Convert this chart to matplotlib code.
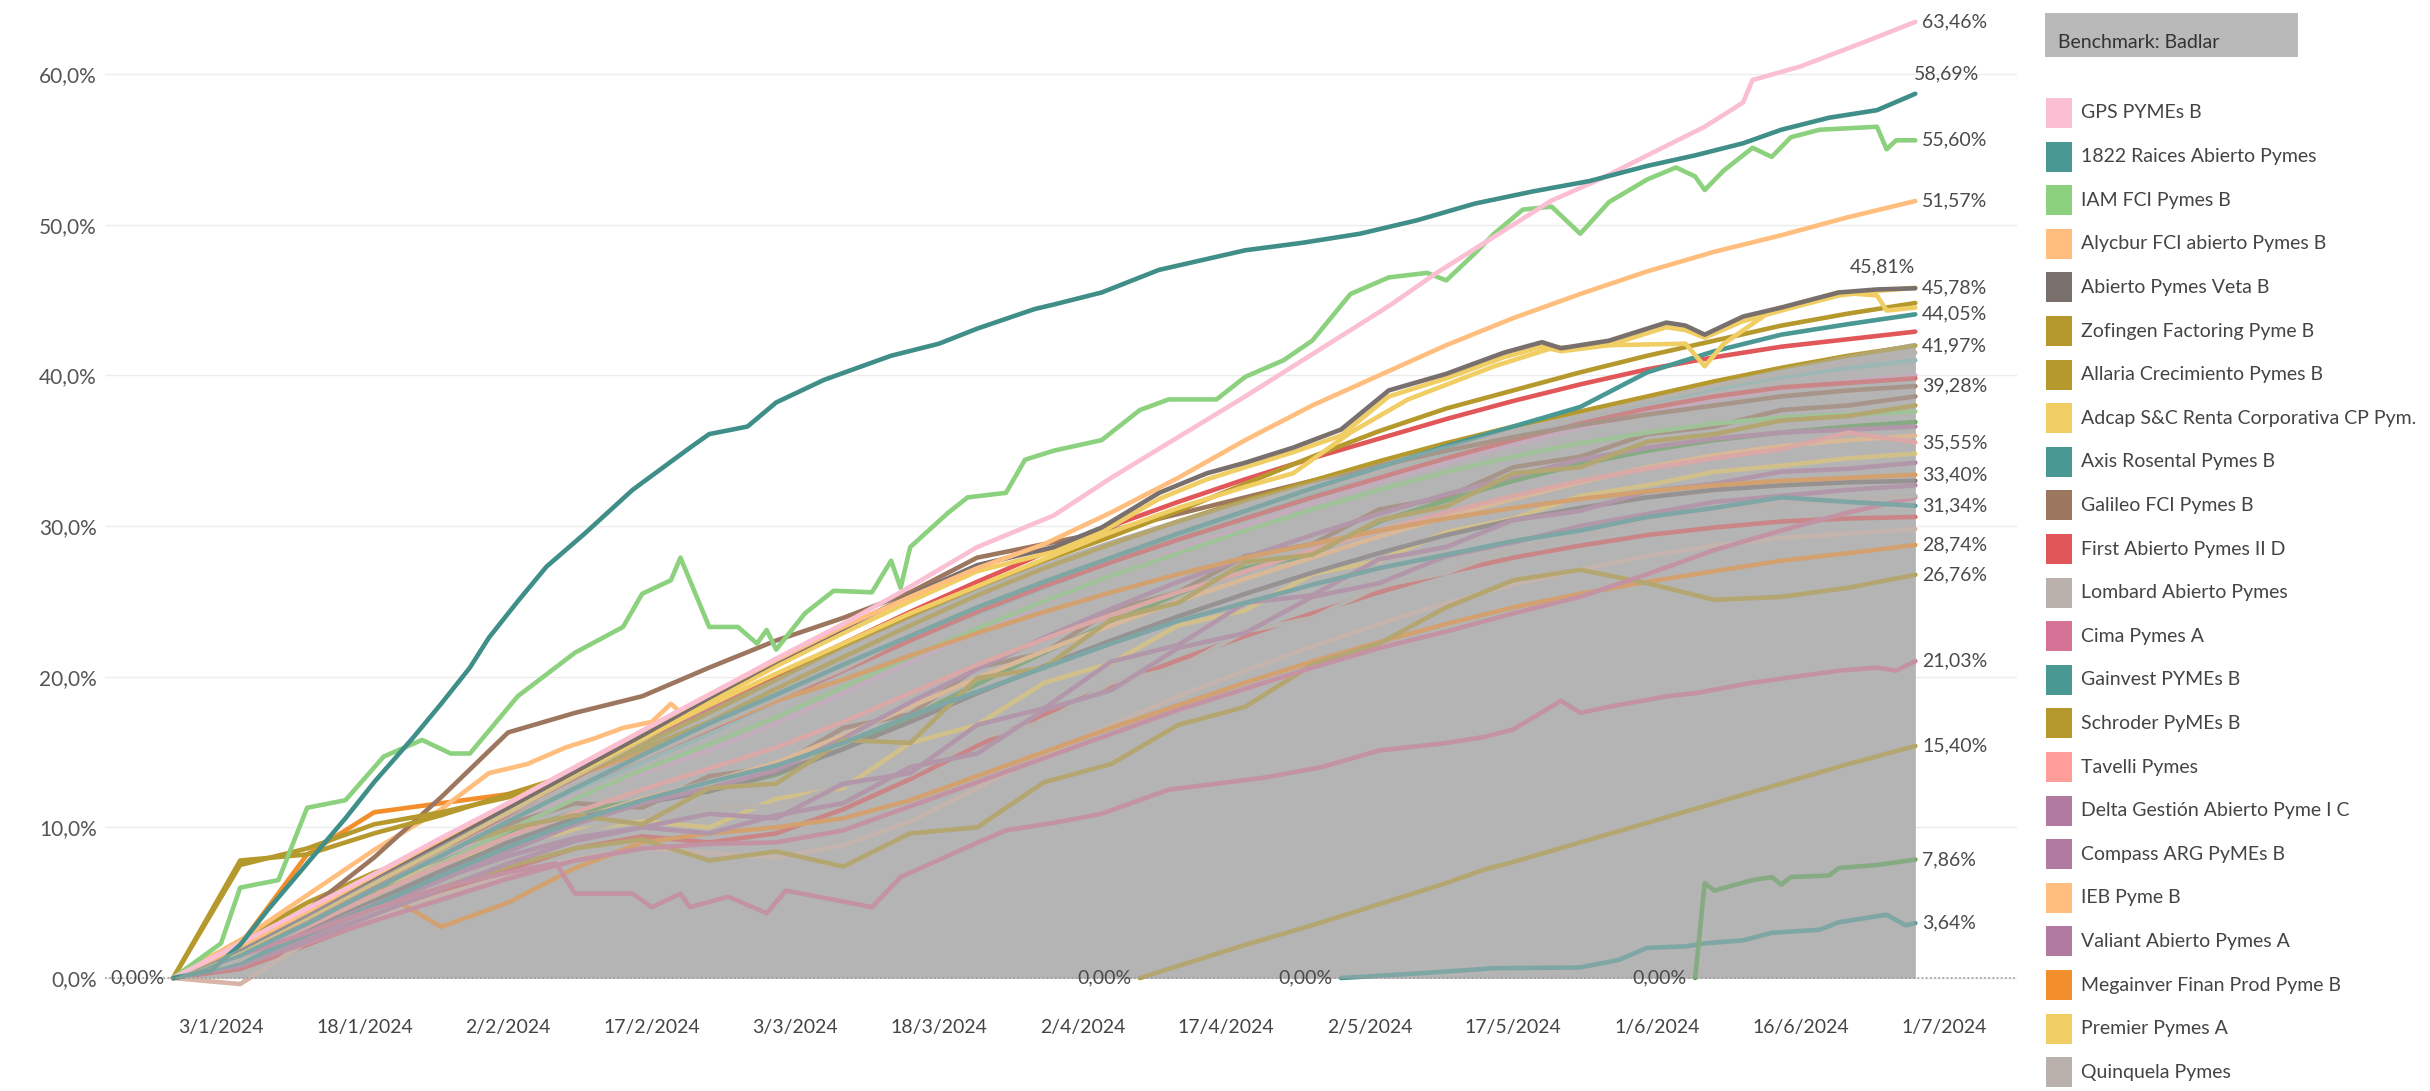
import matplotlib
matplotlib.use("Agg")
import matplotlib.pyplot as plt
import matplotlib.ticker as mticker
from matplotlib.patches import Rectangle
import pandas as pd

plt.rcParams["font.family"] = ["Lato", "DejaVu Sans"]

# day numbers are days of 2024 (1 = 1 Jan); -2 = 29/12/2023
BASE = pd.Timestamp("2023-12-31")
WEEK = list(range(-2, 181, 7))

tick_days = [3, 18, 33, 48, 63, 78, 93, 108, 123, 138, 153, 168, 183]

# ---- benchmark (gray area) ----
badlar = [0, 2.0, 4.3, 6.6, 8.9, 11.2, 13.5, 15.8, 18.0, 20.0, 22.0, 24.0, 25.9, 27.6,
          29.1, 30.5, 31.8, 33.0, 34.2, 35.4, 36.5, 37.5, 38.5, 39.5, 40.5, 41.4, 42.2]

# ---- funds on the weekly grid ----
alycbur = [0, 2.1, 4.4, 6.8, 9.2, 11.6, 14.0, 16.4, 18.8, 21.1, 23.3, 25.3, 27.2, 28.8,
           30.9, 33.2, 35.7, 38.0, 40.0, 42.0, 43.8, 45.4, 46.9, 48.2, 49.3, 50.5, 51.57]
zofingen = [0, 7.5, 8.6, 10.2, 11.0, 12.0, 13.4, 15.5, 17.6, 19.8, 22.0, 24.0, 25.9, 27.7,
            29.3, 31.0, 32.8, 34.6, 36.3, 37.8, 39.0, 40.2, 41.3, 42.3, 43.3, 44.1, 44.8]
allaria = [0, 7.8, 8.2, 9.6, 10.8, 12.2, 13.6, 15.2, 17.0, 19.2, 21.3, 23.4, 25.4, 27.2,
           28.8, 30.3, 31.7, 33.0, 34.3, 35.5, 36.6, 37.6, 38.6, 39.6, 40.5, 41.3, 41.97]
axis_rosental = [0, 1.5, 3.6, 5.9, 8.1, 10.4, 12.6, 14.8, 16.9, 18.8, 20.8, 22.7, 24.6, 26.3,
                 27.9, 29.5, 31.0, 32.5, 33.9, 35.3, 36.6, 37.9, 40.2, 41.6, 42.7, 43.4, 44.05]
first_pymes = [0, 1.9, 4.1, 6.4, 8.7, 11.0, 13.3, 15.6, 17.9, 20.1, 22.2, 24.3, 26.3, 28.2,
               30.0, 31.6, 33.1, 34.5, 35.8, 37.1, 38.3, 39.4, 40.4, 41.2, 41.9, 42.4, 42.9]
galileo = [0, 1.8, 4.5, 8.0, 12.0, 16.3, 17.6, 18.7, 20.6, 22.4, 23.9, 25.6, 27.9, 28.8,
           29.7, 30.8, 31.9, 33.0, 34.0, 35.0, 35.9, 36.7, 37.4, 38.0, 38.6, 39.0, 39.28]
lombard = [0, 1.2, 3.6, 5.9, 8.2, 10.5, 12.8, 14.6, 16.6, 18.6, 20.5, 22.8, 24.6, 26.4,
           27.9, 29.6, 30.9, 32.4, 33.6, 35.0, 36.2, 37.2, 38.3, 39.3, 40.1, 40.8, 41.5]
gainvest = [0, 1.0, 2.9, 4.8, 6.8, 8.7, 10.4, 11.8, 13.0, 14.1, 15.6, 17.4, 19.0, 20.6,
            22.2, 23.7, 24.9, 26.1, 27.2, 28.1, 29.0, 29.7, 30.6, 31.2, 31.9, 31.6, 31.34]
schroder = [0, 2.5, 5.0, 7.0, 8.4, 9.9, 10.8, 10.2, 12.6, 12.9, 15.8, 15.6, 19.9, 20.6,
            23.8, 24.9, 27.6, 28.1, 30.4, 31.3, 33.5, 33.9, 35.6, 36.1, 37.0, 37.3, 38.0]
tavelli = [0, 1.4, 3.4, 5.5, 7.5, 9.4, 11.0, 12.5, 13.9, 15.3, 17.0, 18.9, 20.8, 22.5,
           24.1, 25.6, 27.0, 28.4, 29.7, 30.9, 32.0, 33.0, 33.8, 34.5, 35.1, 36.2, 35.55]
delta = [0, 1.1, 2.8, 4.6, 6.5, 8.4, 10.2, 11.6, 12.6, 13.8, 15.9, 18.3, 20.5, 22.6,
         24.5, 26.3, 27.9, 29.4, 30.8, 32.1, 33.3, 34.4, 35.2, 35.8, 36.2, 36.4, 36.6]
compass = [0, 0.8, 2.5, 4.2, 5.9, 7.6, 9.1, 10.0, 10.9, 10.6, 12.9, 13.6, 16.8, 17.9,
           21.0, 22.1, 24.9, 25.4, 27.8, 28.6, 30.4, 31.0, 32.3, 32.8, 33.6, 33.8, 34.2]
valiant = [0, 1.3, 3.0, 4.9, 6.6, 8.1, 9.3, 10.0, 9.6, 10.8, 11.6, 14.0, 14.9, 17.8,
           19.1, 21.9, 22.9, 25.3, 26.2, 28.0, 28.9, 30.0, 30.8, 31.6, 32.0, 32.4, 32.7]
megainver = [0, 2.2, 8.2, 11.0, 11.6, 12.2, 13.4, 15.0, 16.6, 18.4, 19.8, 21.4, 22.9, 24.3,
             25.6, 26.8, 27.9, 28.8, 29.7, 30.5, 31.2, 31.8, 32.3, 32.7, 33.0, 33.2, 33.40]
quinquela = [0, 0.9, 2.6, 4.4, 6.3, 8.0, 9.6, 10.8, 11.3, 11.4, 12.8, 13.5, 15.9, 17.0,
             19.6, 20.6, 23.0, 23.9, 26.0, 26.9, 28.5, 29.3, 30.5, 31.0, 31.5, 31.7, 32.0]

# funds without a visible legend entry (legend is cut in the original)
other_a = [0, 1.6, 3.9, 6.1, 8.3, 10.6, 12.5, 14.3, 16.2, 18.4, 20.4, 22.5, 24.2, 25.9,
           27.6, 29.3, 30.8, 32.2, 33.6, 34.9, 36.1, 37.2, 38.2, 39.1, 39.9, 40.5, 41.0]
other_b = [0, 1.5, 3.7, 5.8, 8.0, 10.1, 12.0, 13.6, 15.1, 16.9, 18.9, 21.0, 23.0, 24.9,
           26.7, 28.4, 30.0, 31.5, 32.9, 34.2, 35.4, 36.5, 37.5, 38.4, 39.1, 39.6, 40.0]
other_c = [0, 2.2, 4.6, 6.8, 8.6, 10.2, 11.6, 11.3, 13.4, 14.0, 16.6, 17.5, 20.6, 21.6,
           24.4, 25.6, 28.0, 28.8, 31.1, 31.9, 33.9, 34.6, 36.1, 36.6, 37.7, 38.0, 38.6]
other_d = [0, 1.7, 3.5, 5.6, 7.7, 9.6, 11.0, 11.8, 12.4, 13.5, 15.2, 17.3, 19.5, 21.6,
           23.6, 25.5, 27.2, 28.1, 30.3, 31.7, 33.0, 34.1, 35.0, 35.7, 36.2, 36.6, 36.9]
other_e = [0, 2.0, 4.2, 6.0, 7.6, 8.9, 9.8, 10.4, 10.0, 11.9, 12.6, 15.6, 16.8, 19.6,
           20.9, 23.4, 24.4, 26.8, 27.7, 29.6, 30.5, 32.0, 32.7, 33.6, 34.0, 34.5, 34.8]
other_f = [0, 0.6, 2.2, 3.9, 5.6, 7.2, 8.6, 9.4, 9.0, 9.6, 11.2, 13.2, 15.4, 17.5,
           19.4, 21.1, 22.7, 24.2, 25.6, 26.9, 27.9, 28.7, 29.4, 29.9, 30.3, 30.5, 30.6]
other_g = [0, -0.4, 2.4, 4.0, 5.5, 6.8, 7.9, 8.6, 8.3, 8.0, 8.8, 10.4, 12.6, 14.8,
           16.8, 18.7, 20.4, 22.0, 23.5, 24.9, 26.1, 27.1, 28.0, 28.7, 29.2, 29.5, 29.8]
other_h = [0, 1.6, 4.0, 6.0, 3.4, 5.0, 7.3, 9.0, 9.6, 10.0, 10.6, 11.8, 13.4, 15.0,
           16.6, 18.1, 19.6, 21.0, 22.3, 23.5, 24.6, 25.5, 26.3, 27.0, 27.7, 28.2, 28.74]
other_i = [0, 1.2, 2.8, 4.4, 6.0, 7.4, 8.6, 9.2, 7.8, 8.4, 7.4, 9.6, 10.0, 13.0,
           14.2, 16.8, 18.0, 20.8, 22.2, 24.6, 26.4, 27.1, 26.2, 25.1, 25.3, 25.9, 26.76]
other_j = [0, 1.4, 3.4, 5.4, 7.6, 9.8, 11.9, 13.8, 15.5, 17.3, 19.3, 21.3, 23.2, 25.0,
           26.7, 28.2, 29.7, 31.1, 32.4, 33.6, 34.6, 35.5, 36.2, 36.8, 37.2, 37.4, 37.6]
other_k = [0, 1.8, 4.0, 6.2, 8.4, 10.6, 12.7, 14.6, 16.5, 18.4, 20.4, 22.4, 24.3, 26.0,
           27.6, 29.1, 30.5, 31.9, 33.2, 34.5, 35.7, 36.8, 37.8, 38.6, 39.2, 39.5, 39.8]
other_l = [0, 1.2, 3.0, 4.9, 6.9, 8.8, 10.5, 11.9, 13.0, 14.3, 16.1, 18.0, 19.9, 21.7,
           23.4, 25.0, 26.5, 27.9, 29.3, 30.6, 31.8, 32.9, 33.9, 34.7, 35.3, 35.7, 36.0]
other_m = [0, 0.9, 2.3, 3.8, 5.2, 6.6, 7.8, 8.6, 8.9, 9.0, 9.8, 11.4, 13.0, 14.6,
           16.2, 17.8, 19.2, 20.6, 21.9, 23.0, 24.2, 25.3, 26.8, 28.4, 29.7, 30.9, 31.9]
other_n = [0, 1.3, 3.2, 5.1, 7.1, 9.0, 10.6, 11.6, 12.4, 13.6, 15.2, 17.0, 18.9, 20.7,
           22.4, 24.0, 25.5, 26.9, 28.2, 29.4, 30.4, 31.2, 31.9, 32.4, 32.7, 32.9, 33.0]

# ---- funds read on their own dates ----
gps_days = [-2, 5, 12, 19, 26, 33, 40, 47, 51, 54, 61, 68, 74, 82, 90, 96, 103, 110, 115,
            120, 125, 130, 135, 142, 147, 152, 158, 162, 163, 168, 175, 180]
gps_vals = [0, 2.3, 4.6, 6.9, 9.3, 11.6, 14.0, 16.4, 17.8, 18.8, 21.2, 23.5, 25.6, 28.6,
            30.7, 33.2, 35.9, 38.6, 40.6, 42.6, 44.6, 46.8, 48.8, 51.6, 53.0, 54.6, 56.5,
            58.1, 59.6, 60.5, 62.2, 63.46]

raices_days = [-2, 2, 5, 8, 12, 16, 19, 23, 26, 29, 31, 34, 37, 41, 46, 52, 54, 58, 61, 66,
               73, 78, 82, 88, 90, 95, 101, 110, 116, 122, 128, 134, 140, 146, 152, 157,
               162, 166, 171, 176, 180]
raices_vals = [0, 0.5, 2.2, 4.6, 7.6, 10.6, 13.0, 15.9, 18.2, 20.6, 22.6, 25.0, 27.3, 29.5,
               32.4, 35.2, 36.1, 36.6, 38.2, 39.7, 41.3, 42.1, 43.1, 44.4, 44.7, 45.5, 47.0,
               48.3, 48.8, 49.4, 50.3, 51.4, 52.2, 52.9, 53.9, 54.6, 55.4, 56.3, 57.1, 57.6,
               58.69]

iam_days = [-2, 3, 5, 9, 12, 16, 20, 24, 27, 29, 34, 40, 45, 47, 50, 51, 54, 57, 59, 60, 61,
            64, 67, 71, 73, 74, 75, 79, 81, 85, 87, 90, 95, 99, 102, 107, 110, 114, 117,
            121, 125, 129, 131, 134, 136, 139, 142, 145, 148, 152, 155, 157, 158, 160, 163,
            165, 167, 170, 176, 177, 178, 180]
iam_vals = [0, 2.3, 6.0, 6.5, 11.3, 11.8, 14.7, 15.8, 14.9, 14.9, 18.7, 21.6, 23.3, 25.5,
            26.4, 27.9, 23.3, 23.3, 22.2, 23.1, 21.8, 24.2, 25.7, 25.6, 27.7, 25.9, 28.6,
            30.9, 31.9, 32.2, 34.4, 35.0, 35.7, 37.7, 38.4, 38.4, 39.9, 41.0, 42.3, 45.4,
            46.5, 46.8, 46.3, 48.1, 49.4, 51.0, 51.2, 49.4, 51.5, 53.0, 53.8, 53.2, 52.3,
            53.6, 55.1, 54.5, 55.8, 56.3, 56.5, 55.0, 55.6, 55.6]

veta_days = [-2, 5, 12, 19, 26, 33, 40, 47, 54, 61, 68, 75, 82, 90, 95, 101, 106, 110, 115,
             120, 125, 131, 137, 141, 143, 148, 154, 156, 158, 162, 166, 172, 176, 180]
veta_vals = [0, 1.9, 4.2, 6.6, 8.9, 11.3, 13.7, 16.1, 18.6, 21.0, 23.2, 25.4, 27.4, 28.6,
             29.9, 32.2, 33.5, 34.2, 35.2, 36.4, 39.0, 40.1, 41.5, 42.2, 41.8, 42.3, 43.5,
             43.3, 42.7, 43.9, 44.5, 45.5, 45.7, 45.78]

premier_vals = [0, 1.8, 4.0, 6.3, 8.6, 11.0, 13.4, 15.8, 18.3, 20.7, 22.9, 25.0, 27.0, 28.3,
                29.6, 31.8, 33.1, 33.9, 34.9, 36.0, 38.6, 39.8, 41.2, 41.9, 41.6, 42.0, 43.2,
                43.0, 42.5, 43.6, 44.3, 45.3, 45.6, 45.81]

adcap_days = [-2, 5, 12, 19, 26, 33, 40, 47, 54, 61, 68, 75, 82, 89, 96, 103, 110, 115, 121,
              127, 136, 142, 148, 156, 158, 160, 165, 172, 176, 177, 180]
adcap_vals = [0, 1.9, 4.1, 6.5, 8.8, 11.2, 13.6, 15.9, 18.1, 20.2, 22.2, 24.2, 26.0, 27.8,
              29.6, 31.2, 32.6, 33.5, 36.2, 38.4, 40.6, 41.8, 42.0, 42.1, 40.6, 42.1, 44.3,
              45.5, 45.3, 44.3, 44.5]

cima_days = [-2, 5, 12, 19, 26, 33, 38, 40, 46, 48, 51, 52, 56, 60, 62, 67, 71, 74, 81, 85,
             90, 95, 102, 107, 112, 118, 124, 131, 135, 138, 143, 145, 148, 154, 157, 163,
             172, 176, 178, 180]
cima_vals = [0, 1.5, 3.0, 4.6, 6.0, 7.0, 7.6, 5.6, 5.6, 4.7, 5.6, 4.7, 5.4, 4.3, 5.8, 5.2,
             4.7, 6.7, 8.7, 9.8, 10.3, 10.9, 12.5, 12.9, 13.3, 14.0, 15.1, 15.6, 16.0, 16.5,
             18.4, 17.6, 18.0, 18.7, 18.9, 19.6, 20.4, 20.6, 20.4, 21.03]

ieb_days = [-2, 5, 12, 19, 26, 31, 35, 39, 42, 45, 48, 50, 52]
ieb_vals = [0, 2.5, 5.5, 8.5, 11.2, 13.6, 14.2, 15.3, 15.9, 16.6, 17.0, 18.2, 17.1]

late_a_days = [99, 103, 110, 117, 124, 131, 135, 138, 145, 152, 159, 166, 173, 180]
late_a_vals = [0, 0.8, 2.2, 3.5, 4.9, 6.3, 7.2, 7.7, 9.0, 10.3, 11.6, 12.9, 14.2, 15.4]
late_b_days = [120, 128, 136, 145, 149, 152, 156, 158, 162, 165, 170, 172, 177, 179, 180]
late_b_vals = [0, 0.3, 0.65, 0.7, 1.2, 2.0, 2.1, 2.3, 2.5, 3.0, 3.2, 3.7, 4.2, 3.5, 3.64]
late_c_days = [157, 158, 159, 163, 165, 166, 167, 171, 172, 176, 180]
late_c_vals = [0, 6.3, 5.8, 6.5, 6.7, 6.2, 6.7, 6.8, 7.3, 7.5, 7.86]

legend_items = [
    ("GPS PYMEs B", "#fabfd2"),
    ("1822 Raices Abierto Pymes", "#499894"),
    ("IAM FCI Pymes B", "#8cd17d"),
    ("Alycbur FCI abierto Pymes B", "#ffbe7d"),
    ("Abierto Pymes Veta B", "#79706e"),
    ("Zofingen Factoring Pyme B", "#b6992d"),
    ("Allaria Crecimiento Pymes B", "#b6992d"),
    ("Adcap S&C Renta Corporativa CP Pym.", "#f1ce63"),
    ("Axis Rosental Pymes B", "#499894"),
    ("Galileo FCI Pymes B", "#9d7660"),
    ("First Abierto Pymes II D", "#e15759"),
    ("Lombard Abierto Pymes", "#bab0ac"),
    ("Cima Pymes A", "#d37295"),
    ("Gainvest PYMEs B", "#499894"),
    ("Schroder PyMEs B", "#b6992d"),
    ("Tavelli Pymes", "#ff9d9a"),
    ("Delta Gestión Abierto Pyme I C", "#b07aa1"),
    ("Compass ARG PyMEs B", "#b07aa1"),
    ("IEB Pyme B", "#ffbe7d"),
    ("Valiant Abierto Pymes A", "#b07aa1"),
    ("Megainver Finan Prod Pyme B", "#f28e2b"),
    ("Premier Pymes A", "#f1ce63"),
    ("Quinquela Pymes", "#bab0ac"),
]
col = dict(legend_items)

# (days, values, colour, end label mode, start label)
series = [
    (WEEK, other_a, "#86bcb6", None, False),
    (WEEK, other_b, "#d4a6c8", None, False),
    (WEEK, other_c, "#9d7660", None, False),
    (WEEK, other_d, "#59a14f", None, False),
    (WEEK, other_e, "#f1ce63", None, False),
    (WEEK, other_f, "#e15759", None, False),
    (WEEK, other_g, "#d7b5a6", None, False),
    (WEEK, other_h, "#f28e2b", "right", False),
    (WEEK, other_i, "#b6992d", "right", False),
    (WEEK, other_j, "#8cd17d", None, False),
    (WEEK, other_k, "#e15759", None, False),
    (WEEK, other_l, "#ffbe7d", None, False),
    (WEEK, other_m, "#d37295", None, False),
    (WEEK, other_n, "#79706e", None, False),
    (WEEK, quinquela, col["Quinquela Pymes"], None, False),
    (WEEK, valiant, col["Valiant Abierto Pymes A"], None, False),
    (WEEK, compass, col["Compass ARG PyMEs B"], None, False),
    (WEEK, delta, col["Delta Gestión Abierto Pyme I C"], None, False),
    (WEEK, tavelli, col["Tavelli Pymes"], "right", False),
    (WEEK, megainver, col["Megainver Finan Prod Pyme B"], "right", False),
    (WEEK, schroder, col["Schroder PyMEs B"], None, False),
    (WEEK, gainvest, col["Gainvest PYMEs B"], "right", False),
    (WEEK, lombard, col["Lombard Abierto Pymes"], None, False),
    (ieb_days, ieb_vals, col["IEB Pyme B"], None, False),
    (late_a_days, late_a_vals, "#b6992d", "right", True),
    (late_b_days, late_b_vals, "#499894", "right", True),
    (late_c_days, late_c_vals, "#59a14f", "right", True),
    (cima_days, cima_vals, col["Cima Pymes A"], "right", False),
    (WEEK, galileo, col["Galileo FCI Pymes B"], "right", False),
    (WEEK, allaria, col["Allaria Crecimiento Pymes B"], "right", False),
    (WEEK, first_pymes, col["First Abierto Pymes II D"], None, False),
    (WEEK, axis_rosental, col["Axis Rosental Pymes B"], "right", False),
    (WEEK, zofingen, col["Zofingen Factoring Pyme B"], None, False),
    (adcap_days, adcap_vals, col["Adcap S&C Renta Corporativa CP Pym."], None, False),
    (veta_days, premier_vals, col["Premier Pymes A"], "above_left", False),
    (veta_days, veta_vals, col["Abierto Pymes Veta B"], "right", False),
    (WEEK, alycbur, col["Alycbur FCI abierto Pymes B"], "right", False),
    (iam_days, iam_vals, col["IAM FCI Pymes B"], "right", False),
    (gps_days, gps_vals, col["GPS PYMEs B"], "right", True),
    (raices_days, raices_vals, "#3f8e88", "above_right", False),
]


def to_dates(days):
    return BASE + pd.to_timedelta(days, unit="D")


def pct(v, nd=2):
    return f"{v:.{nd}f}".replace(".", ",") + "%"


W, H = 2430, 1091
LEFT = 105
fig = plt.figure(figsize=(W / 100, H / 100), dpi=100)
ax = fig.add_axes([LEFT / W, (H - 1000) / H, (2017 - LEFT) / W, (1000 - 5) / H])

label_kw = dict(textcoords="offset points", fontsize=14, color="#4a4a4a", zorder=60)

bx = to_dates(WEEK)
ax.fill_between(bx, 0, badlar, color="#b4b4b4", lw=0, zorder=1)

for k, (days, vals, c, mode, start_lab) in enumerate(series):
    x = to_dates(days)
    ax.plot(x, vals, color=c, lw=3.3, solid_joinstyle="round", solid_capstyle="round",
            zorder=2 + k * 0.01)
    if mode == "right":
        ax.annotate(pct(vals[-1]), (x[-1], vals[-1]), xytext=(5, 0),
                    ha="left", va="center", **label_kw)
    elif mode == "above_right":
        ax.annotate(pct(vals[-1]), (x[-1], vals[-1]), xytext=(-1, 14),
                    ha="left", va="center", **label_kw)
    elif mode == "above_left":
        ax.annotate(pct(vals[-1]), (x[-1], vals[-1]), xytext=(0, 15),
                    ha="right", va="center", **label_kw)
    if start_lab:
        ax.annotate(pct(vals[0]), (x[0], vals[0]), xytext=(-6, 0),
                    ha="right", va="center", **label_kw)

# gray benchmark veil over the lines that sit inside it
ax.fill_between(bx, 0, badlar, color="#b4b4b4", alpha=0.5, lw=0, zorder=3)
ax.axhline(0, color="#9a9a9a", lw=1.2, ls=(0, (1, 1.5)), zorder=4)

px_day = 1723 / 180.0
ax.set_ylim(-1.46, 64.58)
ax.set_xlim(BASE + pd.Timedelta(days=3 - (221 - LEFT) / px_day),
            BASE + pd.Timedelta(days=3 + (2017 - 221) / px_day))
ax.set_yticks([0, 10, 20, 30, 40, 50, 60])
ax.yaxis.set_major_formatter(mticker.FuncFormatter(lambda v, p: pct(v, 1)))
ticks = to_dates(tick_days)
ax.set_xticks(ticks)
ax.set_xticklabels([f"{d.day}/{d.month}/{d.year}" for d in ticks])
ax.tick_params(axis="x", length=0, pad=14, labelsize=14, labelcolor="#444444")
ax.tick_params(axis="y", length=0, pad=6, labelsize=15, labelcolor="#555555")
ax.yaxis.grid(True, color="#ececec", lw=1)
ax.set_axisbelow(True)
for s in ax.spines.values():
    s.set_visible(False)
ax.patch.set_alpha(0)

# legend drawn in pixel coordinates
lax = fig.add_axes([0, 0, 1, 1])
lax.set_xlim(0, W)
lax.set_ylim(H, 0)
lax.axis("off")
lax.add_patch(Rectangle((2045, 13), 253, 44, color="#b9b9b9", lw=0))
lax.text(2058, 43, "Benchmark: Badlar", fontsize=14, color="#333333", va="center")
for i, (name, c) in enumerate(legend_items):
    yc = 113 + 43.6 * i
    lax.add_patch(Rectangle((2046, yc - 15), 26, 30, color=c, lw=0))
    lax.text(2081, yc, name, fontsize=14, color="#444444", va="center")

fig.savefig("out.png", dpi=100)
